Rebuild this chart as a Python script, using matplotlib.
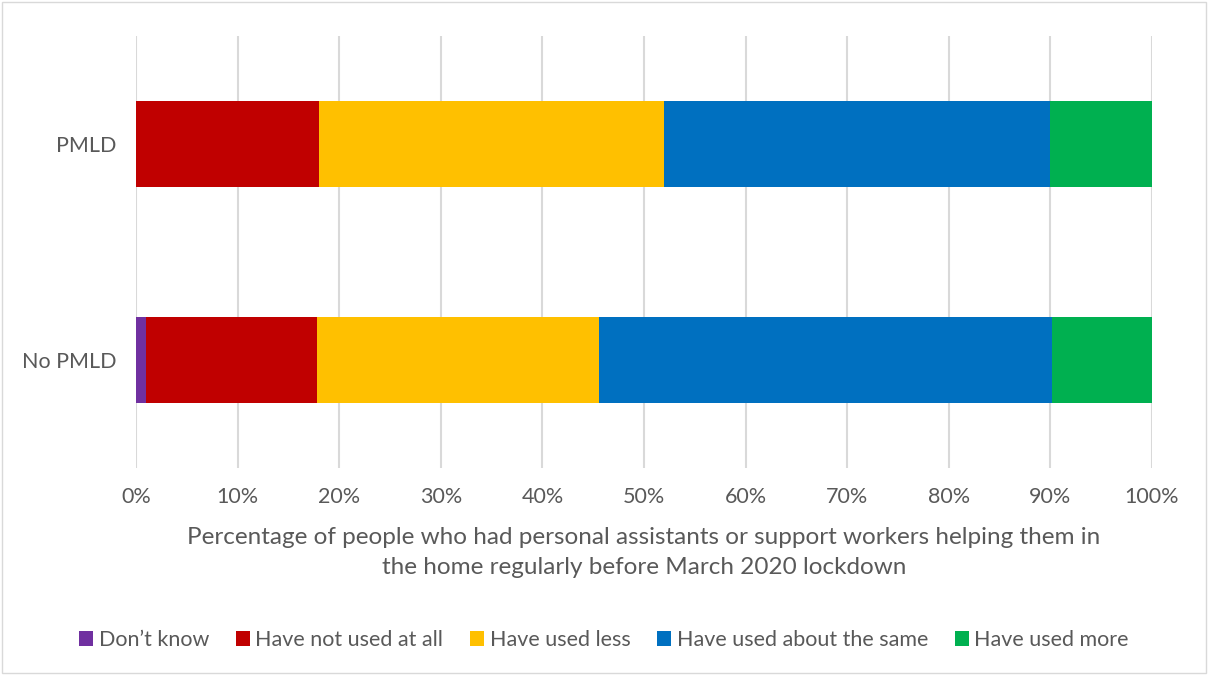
import numpy as np
import matplotlib.pyplot as plt
from matplotlib.ticker import PercentFormatter

plt.rcParams['font.family'] = ['Lato', 'DejaVu Sans']

# Data (percent of respondents)
groups = ["No PMLD", "PMLD"]
labels = ["Don\u2019t know", "Have not used at all", "Have used less",
          "Have used about the same", "Have used more"]
colors = ["#7030A0", "#C00000", "#FFC000", "#0070C0", "#00B050"]
dont_know = [1.0, 0.0]
not_at_all = [16.8, 18.0]
less = [27.8, 34.0]
same = [44.6, 38.0]
more = [9.8, 10.0]
series = [dont_know, not_at_all, less, same, more]

text_col = "#595959"

fig = plt.figure(figsize=(12.08, 6.75), dpi=100)
ax = fig.add_axes([0.1126, 0.307, 0.841, 0.64])

y = np.arange(len(groups))
left = np.zeros(len(groups))
for vals, lab, col in zip(series, labels, colors):
    ax.barh(y, vals, left=left, height=0.4, color=col, label=lab, zorder=3)
    left += np.array(vals)

ax.set_xlim(0, 100)
ax.set_ylim(-0.5, 1.5)
ax.set_xticks(np.arange(0, 101, 10))
ax.xaxis.set_major_formatter(PercentFormatter(decimals=0))
ax.set_yticks(y)
ax.set_yticklabels(groups)
ax.grid(axis="x", color="#D9D9D9", lw=1.5, zorder=0)
for s in ax.spines.values():
    s.set_visible(False)
ax.tick_params(axis="x", length=0, labelsize=15.5, colors=text_col, pad=14)
ax.tick_params(axis="y", length=0, labelsize=15.5, colors=text_col, pad=14)

ax.set_xlabel("Percentage of people who had personal assistants or support workers helping them in\n"
              "the home regularly before March 2020 lockdown",
              fontsize=17.5, color=text_col, labelpad=14, linespacing=1.55)

leg = fig.legend(loc="center", bbox_to_anchor=(0.5, 0.052), ncol=5, frameon=False,
                 fontsize=15.5, handlelength=0.65, handleheight=0.65, handletextpad=0.25,
                 columnspacing=1.25)
for t in leg.get_texts():
    t.set_color(text_col)

# light outer border
fig.patches.append(plt.Rectangle((0.002, 0.003), 0.996, 0.994, transform=fig.transFigure,
                                 fill=False, ec="#D9D9D9", lw=1))

fig.savefig("out.png", dpi=100)
